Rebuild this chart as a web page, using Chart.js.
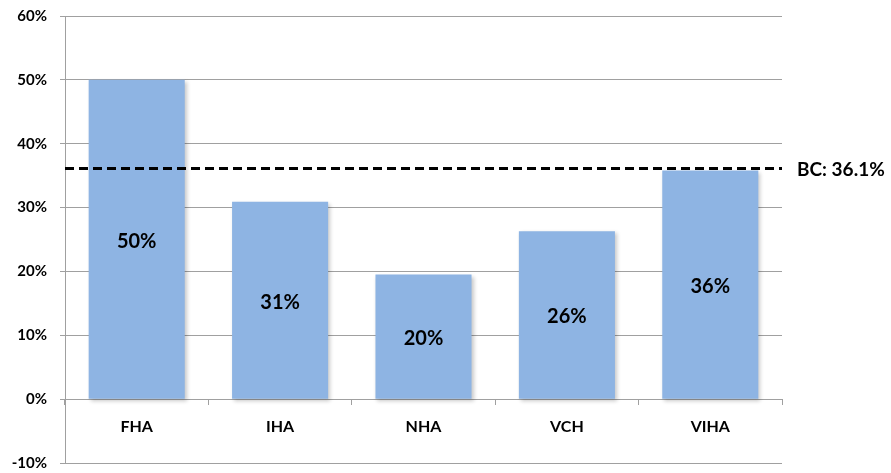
<!DOCTYPE html>
<html>
<head>
<meta charset="utf-8">
<script src="https://cdn.jsdelivr.net/npm/chart.js@4/dist/chart.umd.min.js"></script>
<style>
  html, body { margin: 0; padding: 0; background: #fff; }
  #wrap { width: 891px; height: 473px; position: relative; }
</style>
</head>
<body>
<div id="wrap"><canvas id="chart"></canvas></div>
<script>
const regions = ["FHA", "IHA", "NHA", "VCH", "VIHA"];
const shares = [50, 30.9, 19.5, 26.3, 35.8];
const bcAverage = 36.1;
const yTicks = [-10, 0, 10, 20, 30, 40, 50, 60];

const barColor = "#8EB4E3";
const gridColor = "#A0A0A0";
const fontFamily = "Lato, 'Open Sans', Arial, sans-serif";

const barShadowPlugin = {
  id: "barShadowPlugin",
  beforeDatasetsDraw(chart) {
    const { ctx } = chart;
    ctx.save();
    ctx.shadowColor = "rgba(0, 0, 0, 0.22)";
    ctx.shadowBlur = 4;
    ctx.shadowOffsetX = 2;
    ctx.shadowOffsetY = 2;
  },
  afterDatasetsDraw(chart) {
    chart.ctx.restore();
  }
};

const barLabelPlugin = {
  id: "barLabelPlugin",
  afterDatasetsDraw(chart) {
    const { ctx } = chart;
    const dataset = chart.data.datasets[0];
    ctx.save();
    ctx.font = `700 20px ${fontFamily}`;
    ctx.fillStyle = "#000";
    ctx.textAlign = "center";
    ctx.textBaseline = "middle";
    chart.getDatasetMeta(0).data.forEach((bar, index) => {
      const value = Math.round(dataset.data[index]);
      ctx.fillText(`${value}%`, bar.x, (bar.y + bar.base) / 2 + 2);
    });
    ctx.restore();
  }
};

const averageLinePlugin = {
  id: "averageLinePlugin",
  afterDatasetsDraw(chart) {
    const { ctx, chartArea } = chart;
    const y = chart.scales.y.getPixelForValue(bcAverage);
    ctx.save();
    ctx.strokeStyle = "#000";
    ctx.lineWidth = 3;
    ctx.setLineDash([9, 5]);
    ctx.beginPath();
    ctx.moveTo(chartArea.left, y);
    ctx.lineTo(chartArea.right, y);
    ctx.stroke();

    ctx.font = `700 19px ${fontFamily}`;
    ctx.fillStyle = "#000";
    ctx.textAlign = "left";
    ctx.textBaseline = "middle";
    ctx.fillText(`BC: ${bcAverage}%`, chartArea.right + 15, y + 1);
    ctx.restore();
  }
};

new Chart(document.getElementById("chart"), {
  type: "bar",
  data: {
    labels: regions,
    datasets: [{
      data: shares,
      backgroundColor: barColor,
      barPercentage: 0.67,
      categoryPercentage: 1
    }]
  },
  options: {
    responsive: true,
    maintainAspectRatio: false,
    animation: false,
    layout: { padding: { top: 16, right: 109, bottom: 10, left: 0 } },
    plugins: {
      legend: { display: false },
      tooltip: { enabled: false }
    },
    scales: {
      x: {
        position: { y: 0 },
        grid: {
          drawOnChartArea: false,
          drawTicks: true,
          tickLength: 5,
          color: gridColor,
          offset: true
        },
        border: { color: gridColor },
        ticks: {
          color: "#000",
          padding: 13,
          font: { family: fontFamily, size: 16, weight: "700" }
        }
      },
      y: {
        min: -10,
        max: 60,
        afterBuildTicks(scale) {
          scale.ticks = yTicks.map((value) => ({ value }));
        },
        afterFit(scale) {
          scale.width = 65;
          scale.paddingTop = 0;
          scale.paddingBottom = 0;
        },
        grid: { color: gridColor, tickLength: 5 },
        border: { color: gridColor },
        ticks: {
          color: "#000",
          padding: 13,
          font: { family: fontFamily, size: 15, weight: "700" },
          callback: (value) => `${value}%`
        }
      }
    }
  },
  plugins: [barShadowPlugin, barLabelPlugin, averageLinePlugin]
});
</script>
</body>
</html>
